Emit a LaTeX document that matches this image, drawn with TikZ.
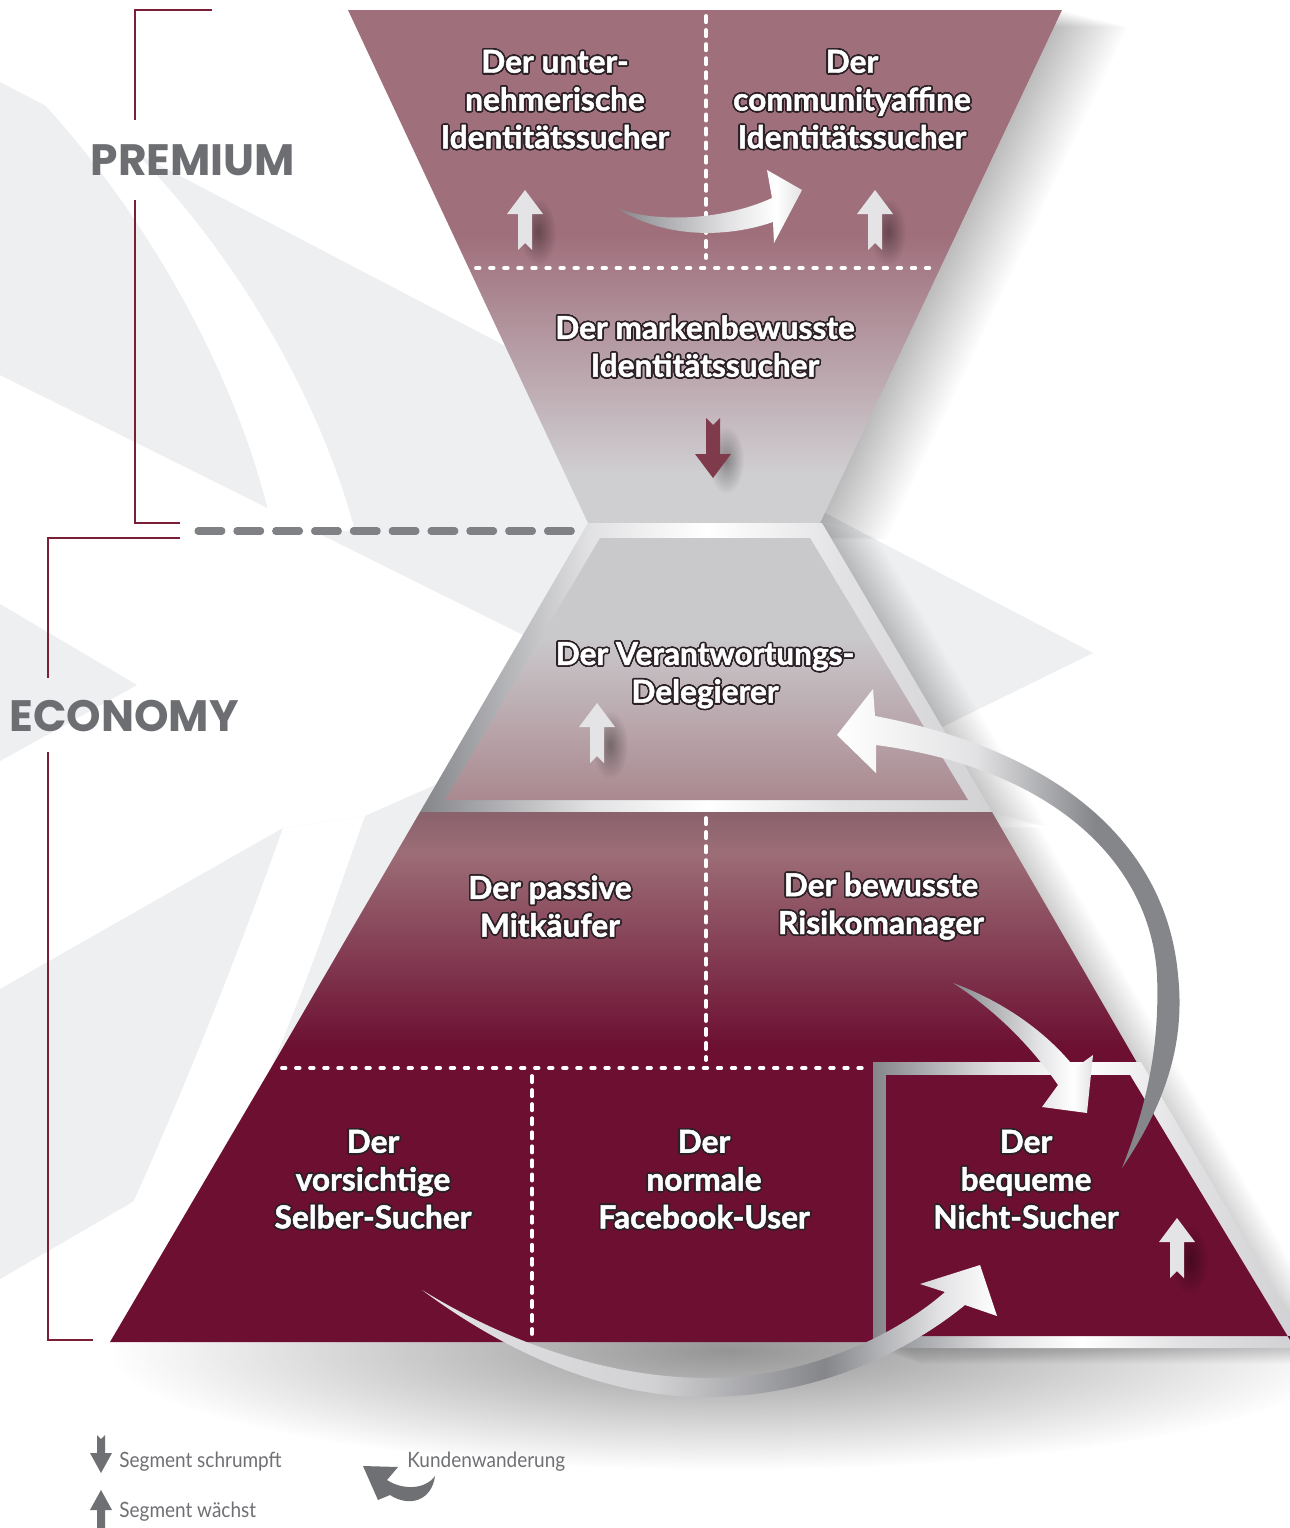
\documentclass[tikz,border=0pt]{standalone}
\usepackage{fontspec}
\setmainfont{Lato}
\newfontfamily\segfont{Lato}[FakeBold=1.5]
\newfontfamily\tierfont{Poppins}
\newfontfamily\legendfont{Lato}[FakeStretch=0.9]
\usepackage{contour}
\contourlength{0.9pt}
\contournumber{24}
\usetikzlibrary{fadings}

\definecolor{mauve}{HTML}{9F6F7C}
\definecolor{waist}{HTML}{CFCED1}
\definecolor{delT}{HTML}{C9C8CB}
\definecolor{delB}{HTML}{AA8990}
\definecolor{pyrTop}{HTML}{9C6D77}
\definecolor{pyrEdge}{HTML}{8A626C}
\definecolor{maroon}{HTML}{6C0F31}
\definecolor{metaldark}{HTML}{85868A}
\definecolor{metallight}{HTML}{E2E2E4}
\definecolor{framelight}{HTML}{D2D2D4}
\definecolor{bggray}{HTML}{EEEFF1}
\definecolor{bracketred}{HTML}{7A1F36}
\definecolor{tiergray}{HTML}{6D6E72}
\definecolor{leggray}{HTML}{6F7074}
\definecolor{dashgray}{HTML}{808185}
\definecolor{arrowwhite}{HTML}{E4E4E6}
\definecolor{arrowred}{HTML}{7F3A4C}
\definecolor{segline}{HTML}{2B2126}

\pgfdeclareverticalshading{premshade}{100bp}{color(0bp)=(waist); color(30bp)=(waist); color(53bp)=(mauve); color(100bp)=(mauve)}
\pgfdeclareverticalshading{delshade}{100bp}{color(0bp)=(delB); color(25bp)=(delB); color(56bp)=(delT); color(100bp)=(delT)}
\pgfdeclareverticalshading{bandshade}{100bp}{color(0bp)=(maroon); color(29bp)=(maroon); color(67bp)=(pyrTop); color(75bp)=(pyrEdge); color(100bp)=(pyrEdge)}
\pgfdeclarehorizontalshading{framemetal}{100bp}{color(0bp)=(metaldark); color(25bp)=(metaldark); color(40bp)=(metallight); color(50bp)=(white); color(62bp)=(metallight); color(75bp)=(framelight); color(100bp)=(framelight)}
\pgfdeclarehorizontalshading{metalA}{100bp}{color(0bp)=(metaldark); color(25bp)=(metaldark); color(55bp)=(metallight); color(68bp)=(white); color(75bp)=(metallight); color(100bp)=(metallight)}
\pgfdeclarehorizontalshading{metalC}{100bp}{color(0bp)=(white); color(25bp)=(white); color(45bp)=(metallight); color(62bp)=(metaldark); color(75bp)=(metaldark); color(100bp)=(metaldark)}
\pgfdeclarehorizontalshading{metalD}{100bp}{color(0bp)=(metallight); color(25bp)=(metallight); color(45bp)=(framelight); color(60bp)=(metaldark); color(70bp)=(metallight); color(75bp)=(white); color(100bp)=(white)}

\tikzfading[name=softdot, inner color=transparent!0, outer color=transparent!100]

\newcommand\ol[1]{\contour{segline}{#1}}

\tikzset{
  growth/.pic={
    \fill[black, opacity=0.35, path fading=softdot] (13,42) ellipse [x radius=18, y radius=34];
    \fill[arrowwhite] (0,0) -- (18,24) -- (7,24) -- (7,60) -- (0,53) -- (-7,60) -- (-7,24) -- (-18,24) -- cycle;
  },
  shrink/.pic={
    \fill[black, opacity=0.35, path fading=softdot] (13,-18) ellipse [x radius=18, y radius=34];
    \fill[arrowred] (0,0) -- (18,-24) -- (7,-24) -- (7,-60) -- (0,-53) -- (-7,-60) -- (-7,-24) -- (-18,-24) -- cycle;
  },
}

\begin{document}
\begin{tikzpicture}[x=0.02cm, y=-0.02cm,
    seg/.style={font=\segfont\bfseries\fontsize{18}{21.5}\selectfont, text=white, align=center, inner sep=0pt},
    tier/.style={font=\tierfont\bfseries\fontsize{25}{30}\selectfont, text=tiergray, inner sep=0pt},
    legend/.style={font=\legendfont\fontsize{12}{14}\selectfont, text=leggray, inner sep=0pt, anchor=west},
    bracket/.style={draw=bracketred, line width=1.2pt},
    dotline/.style={draw=white, line width=2.2pt, line cap=round, dash pattern=on 2pt off 6pt},
    vdotline/.style={draw=white, line width=2.2pt, line cap=round, dash pattern=on 3.5pt off 4.5pt},
    tierline/.style={draw=dashgray, line width=4pt, line cap=round, dash pattern=on 13.6pt off 8.5pt},
    bgshape/.style={fill=bggray},
    dropshade/.style={fill=black, opacity=#1}]
  \useasboundingbox[fill=white] (0,0) rectangle (1290,1528);

  % Background chevrons
  \fill[bgshape] (0,82) -- (1093,653) -- (926,735) -- (533,640) -- (0,375) -- cycle;
  \fill[white] (45,105) .. controls (150,220) and (240,380) .. (273,531) -- (355,531) .. controls (320,400) and (240,260) .. (135,152) -- cycle;
  \fill[bgshape] (0,604) -- (137,685) -- (0,761) -- cycle;
  \fill[bgshape] (0,989) -- (283,828) -- (365,816) -- (480,765) -- (222,1150) -- (0,1279) -- cycle;
  \fill[white] (283,828) .. controls (240,950) and (180,1100) .. (127,1216) -- (222,1150) -- (271,1068) .. controls (320,950) and (345,870) .. (365,816) -- cycle;

  % Shadows
  \fill[black, opacity=0.42, path fading=softdot] (730,1350) ellipse [x radius=620, y radius=120];
  \foreach \s in {3,6,...,66}
    \fill[dropshade=0.012, shift={(\s,\s/4)}] (348,10) -- (1062,10) -- (820,523) -- (588,523) -- cycle;
  \foreach \s in {3,6,...,54}
    \fill[dropshade=0.012, shift={(\s,\s/4)}] (588,523) -- (822,523) -- (992,812) -- (420,812) -- cycle;
  \foreach \s in {3,6,...,48}
    \fill[dropshade=0.012, shift={(\s,\s/3)}] (420,812) -- (992,812) -- (1290,1328) -- (1290,1348) -- (873,1348) -- cycle;

  % Premium funnel
  \shade[shading=premshade] (348,10) -- (1062,10) -- (820,523) -- (588,523) -- cycle;

  % Delegierer frame
  \shade[shading=framemetal] (588,523) -- (822,523) -- (992,812) -- (420,812) -- cycle;
  \shade[shading=delshade] (600,538) -- (810,538) -- (968,800) -- (445,800) -- cycle;

  % Economy pyramid
  \shade[shading=bandshade] (420,812) -- (992,812) -- (1140,1068) -- (271,1068) -- cycle;
  \fill[maroon] (271,1068) -- (1140,1068) -- (1290,1328) -- (1290,1342) -- (110,1342) -- cycle;
  \shade[shading=framemetal] (873,1062) -- (1141,1062) -- (1290,1316) -- (1290,1348) -- (873,1348) -- cycle;
  \fill[maroon] (886,1075) -- (1130,1075) -- (1290,1340) -- (1290,1336) -- (886,1336) -- cycle;

  % Segment borders
  \draw[vdotline] (706,16) -- (706,258);
  \draw[dotline] (476,268) -- (935,268);
  \draw[vdotline] (706,818) -- (706,1060);
  \draw[dotline] (282,1068) -- (870,1068);
  \draw[vdotline] (532,1076) -- (532,1334);

  % Premium / Economy split
  \draw[tierline] (198,531) -- (576,531);
  \node[tier] (premium) at (193,160) {PREMIUM};
  \node[tier] (economy) at (124,716) {ECONOMY};
  \draw[bracket] (212,10) -- (135,10) -- (135,120);
  \draw[bracket] (135,200) -- (135,523) -- (180,523);
  \draw[bracket] (180,538) -- (48,538) -- (48,678);
  \draw[bracket] (48,752) -- (48,1340) -- (93,1340);

  % Growth and shrink arrows
  \foreach \x/\y in {525/190, 875/190, 597/703, 1177/1218}
    \pic at (\x,\y) {growth};
  \pic at (713,478) {shrink};

  % Customer migration
  \shade[shading=metalA] (617,208) .. controls (650,222) and (720,222) .. (772,198) -- (767,170) -- (802,190) -- (774,243) -- (773,222) .. controls (720,240) and (660,236) .. (617,208) -- cycle;
  \shade[shading=metalA] (953,983) .. controls (1000,1000) and (1045,1030) .. (1075,1068) -- (1093,1055) -- (1087,1113) -- (1042,1107) -- (1058,1085) .. controls (1030,1045) and (995,1010) .. (953,983) -- cycle;
  \shade[shading=metalC] (1122,1168) .. controls (1168,1100) and (1185,1040) .. (1178,975) .. controls (1168,860) and (1080,755) .. (875,716) -- (873,689) -- (837,735) -- (876,773) -- (876,745) .. controls (1050,768) and (1150,860) .. (1157,975) .. controls (1160,1050) and (1145,1110) .. (1122,1168) -- cycle;
  \shade[shading=metalD] (422,1290) .. controls (530,1370) and (630,1398) .. (708,1397) .. controls (820,1396) and (910,1350) .. (965,1305) -- (997,1316) -- (980,1265) -- (920,1284) -- (945,1292) .. controls (890,1340) and (800,1378) .. (708,1378) .. controls (620,1378) and (520,1350) .. (422,1290) -- cycle;

  % Segments
  \node[seg] (unter) at (555,100) {\ol{Der unter-}\\\ol{nehmerische}\\\ol{Identitätssucher}};
  \node[seg] (community) at (852,100) {\ol{Der}\\\ol{communityaffine}\\\ol{Identitätssucher}};
  \node[seg] (marken) at (705,347) {\ol{Der markenbewusste}\\\ol{Identitätssucher}};
  \node[seg] (delegierer) at (705,676) {\ol{Der Verantwortungs-}\\\ol{Delegierer}};
  \node[seg] (passiv) at (550,907) {\ol{Der passive}\\\ol{Mitkäufer}};
  \node[seg] (risiko) at (881,907) {\ol{Der bewusste}\\\ol{Risikomanager}};
  \node[seg] (selber) at (373,1180) {\ol{Der}\\\ol{vorsichtige}\\\ol{Selber-Sucher}};
  \node[seg] (facebook) at (704,1180) {\ol{Der}\\\ol{normale}\\\ol{Facebook-User}};
  \node[seg] (bequem) at (1026,1180) {\ol{Der}\\\ol{bequeme}\\\ol{Nicht-Sucher}};

  % Legend
  \fill[leggray] (101,1473) -- (90,1453) -- (97,1453) -- (97,1435) -- (101,1439) -- (105,1435) -- (105,1453) -- (112,1453) -- cycle;
  \node[legend] (shrinks) at (119,1462) {Segment schrumpft};
  \fill[leggray] (101,1490) -- (112,1510) -- (105,1510) -- (105,1528) -- (97,1528) -- (97,1510) -- (90,1510) -- cycle;
  \node[legend] (grows) at (119,1512) {Segment wächst};
  \fill[leggray] (435,1476) .. controls (432,1500) and (410,1508) .. (390,1495) -- (378,1500) -- (363,1466) -- (398,1467) -- (387,1480) .. controls (402,1490) and (425,1490) .. (435,1476) -- cycle;
  \node[legend] (migration) at (407,1462) {Kundenwanderung};
\end{tikzpicture}
\end{document}
